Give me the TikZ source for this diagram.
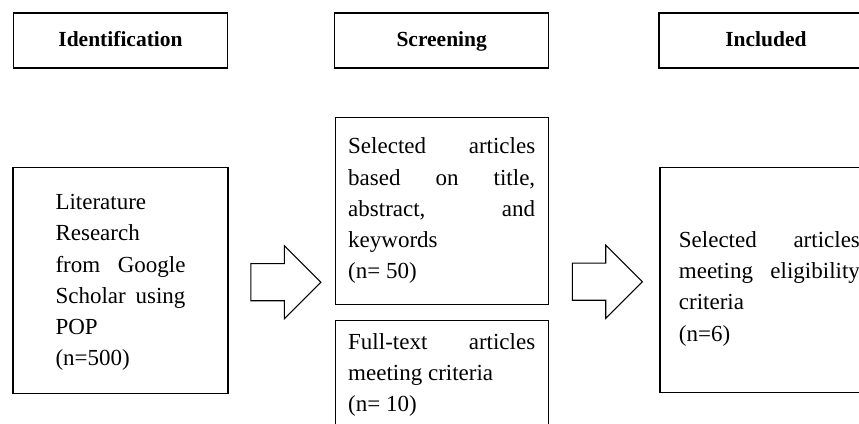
\documentclass[tikz,border=0pt]{standalone}
\usepackage{fontspec}
\setmainfont{Liberation Serif}
\usetikzlibrary{shapes.arrows,calc,positioning}
\tikzset{
every picture/.style={
line width=1.2pt
},
  stage/.style={
    draw, minimum width=214pt, minimum height=55pt, inner sep=0pt,
    text height=15pt, text depth=4pt,
    font=\fontsize{21.5}{25}\selectfont\bfseries
  },
  box/.style={
    draw, align=justify, inner ysep=0pt,
    font=\fontsize{23}{31.2}\selectfont
  },
  blockarrow/.style={
    single arrow, draw, line width=1.1pt, inner sep=0pt,
    text height=36pt, text depth=0pt,
    single arrow head extend=18pt,
    minimum width=72pt, minimum height=70pt
  }
}
\hyphenpenalty=10000
\begin{document}
\begin{tikzpicture}[x=1pt,y=1pt]
\useasboundingbox (0,0) rectangle (859,-423);

\node [stage] at (120.5,-40.5) (ident) {Identification};
\node [stage, right=106pt of ident] (screen) {Screening};
\node [stage, right=109pt of screen] (incl) {Included};

\node [box, below=98pt of ident, text width=130pt, minimum width=215pt, minimum height=226pt] (lit)
  {\rule{0pt}{20pt}Literature\\ Research\\ from Google\linebreak Scholar using\linebreak POP\\ (n=500)};
\node [box, below=48pt of screen, text width=187pt, minimum width=213pt, minimum height=187pt] (sel)
  {Selected articles\linebreak based on title,\linebreak abstract, and\linebreak keywords\\ (n= 50)};
\node [box, below=15pt of sel, text width=187pt, minimum width=213pt, inner ysep=13pt] (full)
  {Full-text articles\linebreak meeting criteria\\ (n= 10)};
\node [box, below=98pt of incl, xshift=3.5pt, text width=181pt, minimum width=219pt, minimum height=225pt] (elig)
  {\rule{0pt}{34pt}Selected articles\linebreak meeting eligibility\linebreak criteria\\ (n=6)};

% arrows between the stages
\node [blockarrow, xshift=-5pt, yshift=-2pt] at ($(lit.east)!0.5!(lit.east -| sel.west)$) (ar1) {};
\node [blockarrow, xshift=-6pt, yshift=-2pt] at ($(elig.west)!0.5!(elig.west -| sel.east)$) (ar2) {};

\end{tikzpicture}
\end{document}
